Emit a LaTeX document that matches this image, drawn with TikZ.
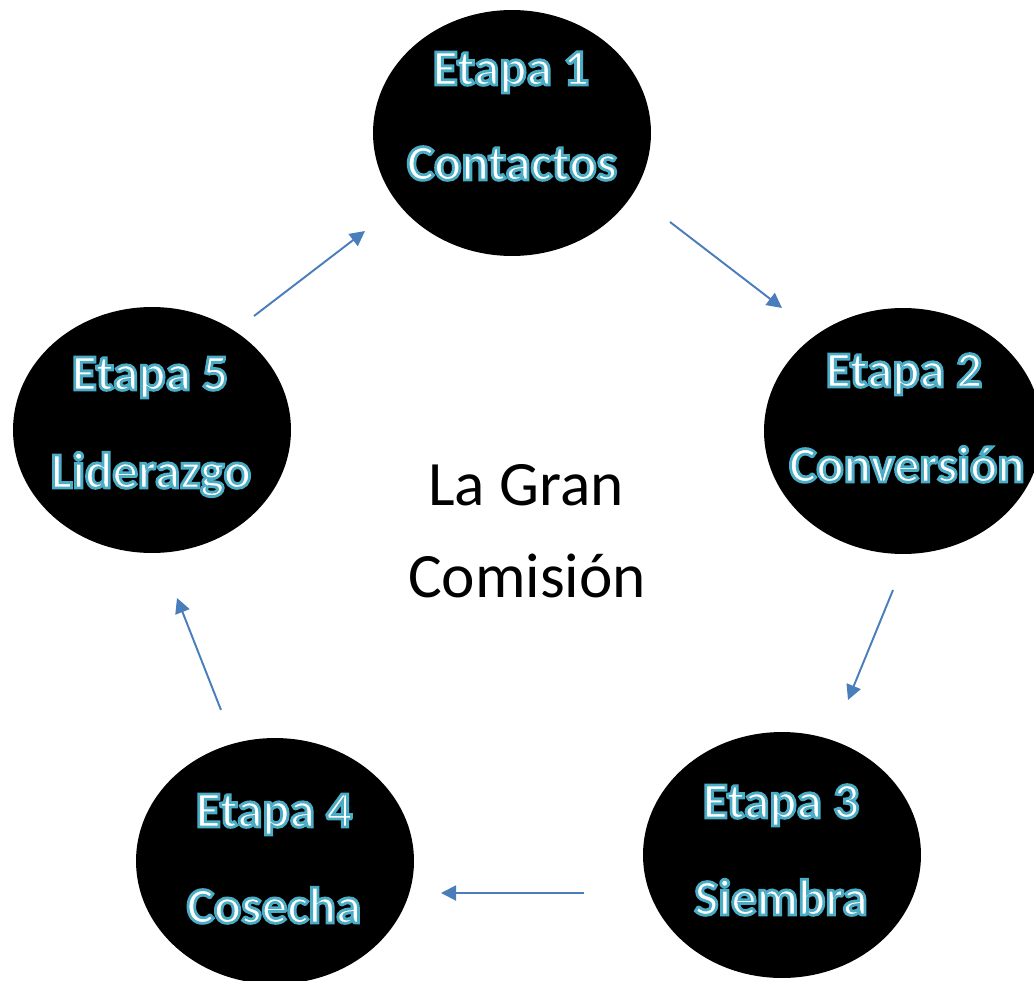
\documentclass[tikz,border=0pt]{standalone}
\usepackage{fontspec}
\setmainfont{Carlito}
\usetikzlibrary{arrows.meta,shapes.geometric}
\definecolor{flecha}{HTML}{4A7EBB}
\newcommand{\etq}[1]{\special{pdf:bcolor [1 1 1] [0.294 0.675 0.776]}\special{pdf:literal direct 2 Tr 1.6 w}#1\special{pdf:literal direct 0 Tr 0.4 w}\special{pdf:ecolor}}

\begin{document}
\begin{tikzpicture}[x=0.02cm, y=-0.02cm,
    etapa/.style={ellipse, fill=black, inner sep=0pt, minimum width=5.56cm, minimum height=4.92cm},
    rotulo/.style={font=\bfseries\fontsize{29}{34}\selectfont, anchor=base, inner sep=0pt},
    centro/.style={font=\fontsize{36}{44}\selectfont, anchor=base, inner sep=0pt},
    flujo/.style={draw=flecha, line width=1.1pt, -{Triangle[length=0.3cm, width=0.3cm]}}]
  \useasboundingbox (0,0) rectangle (1034,980);

  \node [etapa] (e1) at (512,133) {};
  \node [etapa] (e2) at (903,431) {};
  \node [etapa] (e3) at (782,855) {};
  \node [etapa] (e4) at (275,861) {};
  \node [etapa] (e5) at (152,430) {};

  \node [rotulo] (e1a) at (511,85) {\etq{Etapa 1}};
  \node [rotulo] (e1b) at (512,180) {\etq{Contactos}};
  \node [rotulo] (e2a) at (904,387) {\etq{Etapa 2}};
  \node [rotulo] (e2b) at (907,482) {\etq{Conversión}};
  \node [rotulo] (e3a) at (781,818) {\etq{Etapa 3}};
  \node [rotulo] (e3b) at (781,915) {\etq{Siembra}};
  \node [rotulo] (e4a) at (274,827) {\etq{Etapa 4}};
  \node [rotulo] (e4b) at (274,923) {\etq{Cosecha}};
  \node [rotulo] (e5a) at (150,390) {\etq{Etapa 5}};
  \node [rotulo] (e5b) at (151,488) {\etq{Liderazgo}};

  \node [centro] (c1) at (526,505) {La Gran};
  \node [centro] (c2) at (527,597) {Comisión};

  \coordinate (f1) at (670,222);
  \coordinate (g1) at (782,308);
  \coordinate (f2) at (893,590);
  \coordinate (g2) at (848,700);
  \coordinate (f3) at (584,893);
  \coordinate (g3) at (441,893);
  \coordinate (f4) at (221,710);
  \coordinate (g4) at (177,598);
  \coordinate (f5) at (254,316);
  \coordinate (g5) at (365,231);

  \draw [flujo] (f1) -- (g1);
  \draw [flujo] (f2) -- (g2);
  \draw [flujo] (f3) -- (g3);
  \draw [flujo] (f4) -- (g4);
  \draw [flujo] (f5) -- (g5);
\end{tikzpicture}
\end{document}
